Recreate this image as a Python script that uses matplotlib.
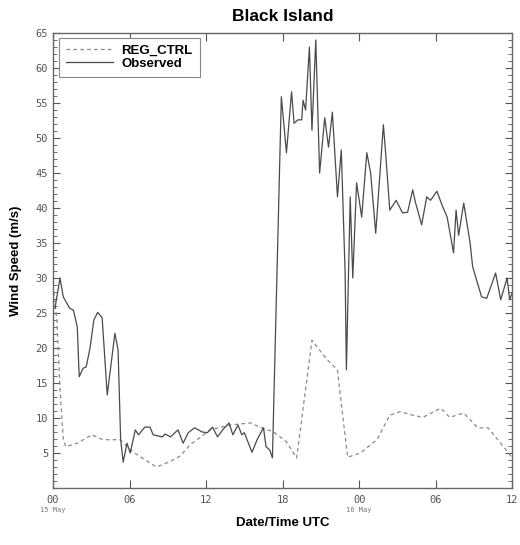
import matplotlib.pyplot as plt
from matplotlib.ticker import MultipleLocator
import numpy as np

# hours since 15 May 00 UTC
obs_hours = [0.15, 0.55, 0.8, 1.3, 1.6, 1.9, 2.05, 2.35, 2.6, 2.9, 3.2, 3.5, 3.85,
             4.25, 4.85, 5.1, 5.3, 5.5, 5.8, 6.05, 6.45, 6.7, 7.2, 7.6, 7.85, 8.55,
             8.8, 9.2, 9.8, 10.2, 10.6, 11.1, 11.7, 12.1, 12.5, 12.9, 13.3, 13.8,
             14.1, 14.5, 14.8, 15.0, 15.6, 16.0, 16.5, 16.7, 17.0, 17.2, 17.9, 18.3,
             18.7, 18.9, 19.2, 19.5, 19.6, 19.8, 20.1, 20.3, 20.6, 20.9, 21.3, 21.6,
             21.9, 22.3, 22.6, 22.9, 23.0, 23.3, 23.5, 23.8, 24.2, 24.6, 24.9, 25.3,
             25.9, 26.1, 26.4, 26.9, 27.4, 27.8, 28.2, 28.4, 28.9, 29.3, 29.6, 30.1,
             30.5, 30.9, 31.4, 31.6, 31.8, 32.2, 32.7, 32.9, 33.6, 34.0, 34.7, 35.1,
             35.6, 35.8, 36.0]
obs_speed = [25.7, 30.0, 27.3, 25.7, 25.4, 23.0, 15.9, 17.1, 17.3, 20.0, 24.0, 25.1, 24.3,
             13.3, 22.1, 19.7, 6.9, 3.7, 6.4, 5.0, 8.3, 7.6, 8.7, 8.7, 7.6, 7.3,
             7.7, 7.3, 8.3, 6.4, 7.9, 8.6, 8.0, 7.9, 8.7, 7.3, 8.3, 9.3,
             7.6, 9.0, 7.6, 7.9, 5.1, 6.9, 8.6, 5.9, 5.4, 4.3, 55.9, 47.9,
             56.6, 52.1, 52.6, 52.6, 55.4, 54.0, 63.0, 51.1, 64.0, 45.0, 52.9, 48.7,
             53.7, 41.6, 48.3, 30.7, 16.9, 41.6, 30.0, 43.6, 38.7, 47.9, 45.0, 36.4,
             51.9, 47.3, 39.7, 41.1, 39.3, 39.4, 42.6, 40.9, 37.6, 41.6, 41.1, 42.4,
             40.4, 38.7, 33.6, 39.7, 36.1, 40.7, 35.0, 31.6, 27.3, 27.1, 30.7, 26.9,
             30.0, 26.9, 27.9]

reg_hours = [0.0, 0.3, 0.55, 0.8, 1.0, 1.9, 3.05, 3.9, 5.25, 6.3, 8.1, 9.2, 10.0,
             10.75, 11.3, 12.3, 13.9, 15.5, 16.2, 17.0, 17.3, 18.3, 19.1, 20.3, 21.5,
             22.3, 22.5, 23.1, 24.1, 25.4, 26.4, 27.2, 28.2, 29.0, 30.4, 31.1, 32.2,
             33.3, 34.1, 35.1, 36.0]
reg_speed = [29.0, 24.0, 14.0, 7.0, 5.9, 6.4, 7.6, 6.9, 6.9, 5.1, 3.0, 3.8, 4.6,
             6.2, 6.9, 8.3, 9.0, 9.3, 8.7, 8.2, 8.0, 6.6, 4.3, 21.1, 18.3,
             16.9, 13.6, 4.4, 5.0, 6.9, 10.4, 10.9, 10.4, 10.1, 11.4, 10.1, 10.7,
             8.6, 8.6, 6.4, 4.3]

xtick_hours = [0, 6, 12, 18, 24, 30, 36]
xtick_labels = ['00', '06', '12', '18', '00', '06', '12']
date_labels = {0: '15 May', 24: '16 May'}

plt.rcParams['font.family'] = ['Liberation Sans', 'DejaVu Sans']

fig = plt.figure(figsize=(5.2, 5.45), dpi=100)
ax = fig.add_axes([0.102, 0.1046, 0.883, 0.8348])

ax.plot(reg_hours, reg_speed, color='#8a8a8a', lw=0.9, ls=(0, (3, 2.5)), label='REG_CTRL')
ax.plot(obs_hours, obs_speed, color='#4a4a4a', lw=0.9, label='Observed')

ax.set_xlim(0, 36)
ax.set_ylim(0, 65)
ax.set_xticks(xtick_hours)
ax.set_xticklabels(xtick_labels)
ax.set_yticks(np.arange(5, 66, 5))
ax.yaxis.set_minor_locator(MultipleLocator(1))

ax.tick_params(axis='both', which='both', direction='in', top=True, right=True,
               colors='#555555', labelcolor='#555555')
ax.tick_params(axis='y', which='major', length=5, width=0.8)
ax.tick_params(axis='y', which='minor', length=3, width=0.6)
ax.tick_params(axis='x', which='major', length=6, width=0.8, pad=5)
for lab in ax.get_xticklabels() + ax.get_yticklabels():
    lab.set_family('DejaVu Sans Mono')
    lab.set_fontsize(7.5)

for h, txt in date_labels.items():
    ax.text(h, -0.042, txt, transform=ax.get_xaxis_transform(), ha='center', va='top',
            fontsize=5, color='#777777', family='DejaVu Sans Mono')

for sp in ax.spines.values():
    sp.set_color('#666666')
    sp.set_linewidth(1.0)

ax.set_title('Black Island', fontsize=12.5, fontweight='bold', pad=9)
ax.set_ylabel('Wind Speed (m/s)', fontsize=9.5, fontweight='bold', labelpad=10)
ax.set_xlabel('Date/Time UTC', fontsize=9.5, fontweight='bold', labelpad=9)

leg = ax.legend(loc='upper left', bbox_to_anchor=(0.012, 0.99), fancybox=False,
                edgecolor='#888888', prop={'weight': 'bold', 'size': 9.5},
                handlelength=3.6, handletextpad=0.6, borderpad=0.55,
                labelspacing=0.05, framealpha=1, borderaxespad=0)
leg.get_frame().set_linewidth(0.8)

fig.savefig('out.png', dpi=100)
